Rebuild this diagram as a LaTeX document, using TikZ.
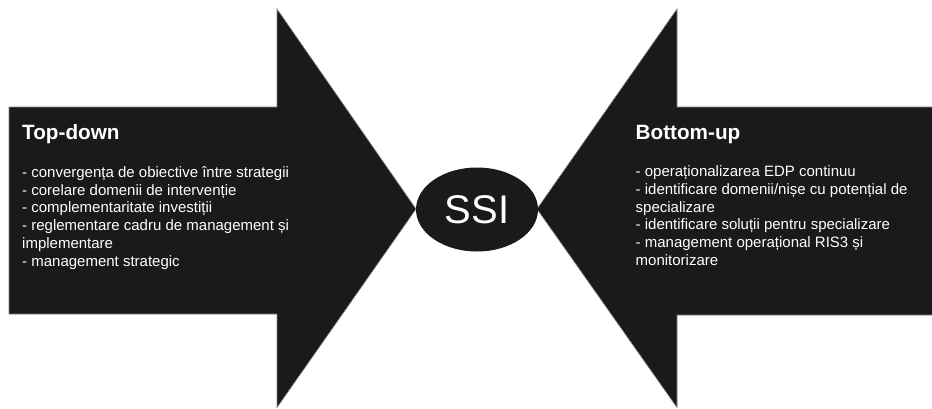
\documentclass[tikz,border=0pt]{standalone}
\usepackage{fontspec}
\setmainfont{Liberation Sans}
\usetikzlibrary{shapes.geometric}
\definecolor{arrowfill}{RGB}{25,26,25}
\definecolor{edgegray}{RGB}{130,130,130}
\begin{document}
\begin{tikzpicture}[x=1pt,y=-1pt,
  bigarrow/.style={fill=arrowfill, draw=edgegray, line width=0.6pt, line join=miter},
  heading/.style={anchor=base west, text=white, inner sep=0pt, font=\fontsize{20.7}{24}\selectfont\bfseries},
  item/.style={anchor=base west, text=white, inner sep=0pt, font=\fontsize{15}{18}\selectfont},
  hub/.style={ellipse, fill=arrowfill, minimum width=122pt, minimum height=84pt, inner sep=0pt, text=white, font=\fontsize{40}{48}\selectfont}]
\useasboundingbox (0,0) rectangle (932,408);
\clip (0,0) rectangle (932,408);
% left arrow (Top-down)
\draw[bigarrow] (9,107) -- (277,107) -- (277,9) -- (416,209) -- (277,407.5) -- (277,314) -- (9,314) -- cycle;
% right arrow (Bottom-up)
\draw[bigarrow] (940,107) -- (677,107) -- (677,9) -- (537,209) -- (677,407.5) -- (677,315) -- (940,315) -- cycle;
% centre
\node[hub] (ssi) at (477,209.5) {SSI};
% left texts
\node[heading] (td) at (22,139.5) {Top-down};
\node[item] (l1) at (22,177.3) {- convergența de obiective între strategii};
\node[item] (l2) at (22,195.0) {- corelare domenii de intervenție};
\node[item] (l3) at (22,212.8) {- complementaritate investiții};
\node[item] (l4) at (22,230.6) {- reglementare cadru de management și};
\node[item] (l5) at (22,248.3) {implementare};
\node[item] (l6) at (22,266.0) {- management strategic};
% right texts
\node[heading] (bu) at (635.5,139.3) {Bottom-up};
\node[item] (r1) at (635.5,176.7) {- operaționalizarea EDP continuu};
\node[item] (r2) at (635.5,194.4) {- identificare domenii/nișe cu potențial de};
\node[item] (r3) at (635.5,212.0) {specializare};
\node[item] (r4) at (635.5,229.7) {- identificare soluții pentru specializare};
\node[item] (r5) at (635.5,247.4) {- management operațional RIS3 și};
\node[item] (r6) at (635.5,265.0) {monitorizare};
\end{tikzpicture}
\end{document}
